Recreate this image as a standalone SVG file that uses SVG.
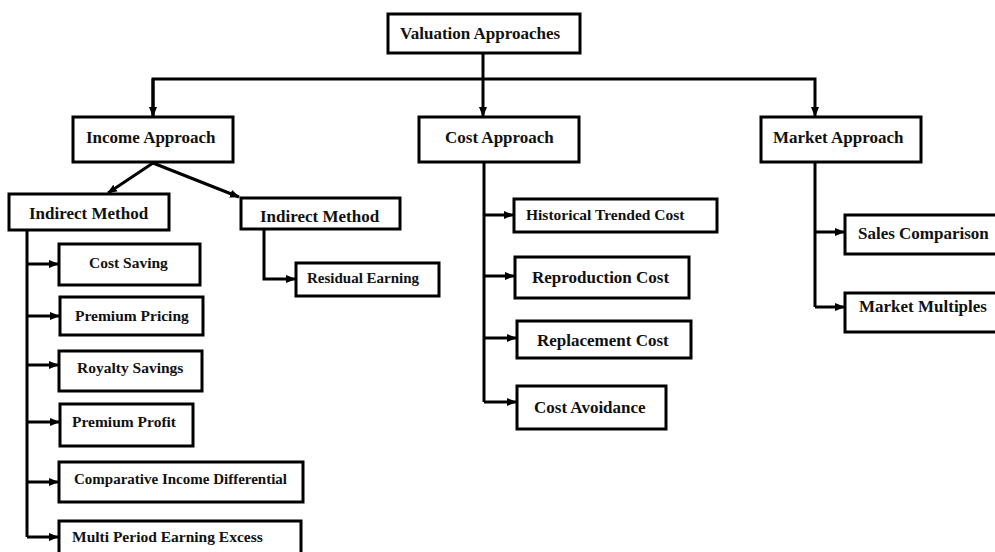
<svg xmlns="http://www.w3.org/2000/svg" width="995" height="552" viewBox="0 0 995 552">
<style>
.box{fill:#fff;stroke:#000;stroke-width:3}
.t{font-family:"Liberation Serif","Times New Roman",serif;font-weight:bold;font-size:15.5px;fill:#111}
.tl{font-size:17px}
.ts{font-size:15px}
.c{fill:none;stroke:#000;stroke-width:3}
</style>
<defs>
<marker id="ah" markerUnits="userSpaceOnUse" markerWidth="10" markerHeight="10" viewBox="0 0 10 10" refX="9" refY="5" orient="auto">
<path d="M0,1 L10,5 L0,9 Z" fill="#000"/>
</marker>
</defs>
<rect width="995" height="552" fill="#fff"/>
<g id="connectors">
<path class="c" d="M483,53 V116" marker-end="url(#ah)"/>
<path class="c" d="M153,116 V79 H815 V116" marker-end="url(#ah)"/>
<path class="c" d="M153,79 V116" marker-end="url(#ah)"/>
<path class="c" d="M153,163 L108,193" marker-end="url(#ah)"/>
<path class="c" d="M153,163 L239,197" marker-end="url(#ah)"/>
<path class="c" d="M27,230 V537"/>
<path class="c" d="M27,264 H58" marker-end="url(#ah)"/>
<path class="c" d="M27,316 H59" marker-end="url(#ah)"/>
<path class="c" d="M27,365 H58" marker-end="url(#ah)"/>
<path class="c" d="M27,422 H59" marker-end="url(#ah)"/>
<path class="c" d="M27,482 H58" marker-end="url(#ah)"/>
<path class="c" d="M27,537 H58" marker-end="url(#ah)"/>
<path class="c" d="M264,229 V279 H295" marker-end="url(#ah)"/>
<path class="c" d="M484,162 V402"/>
<path class="c" d="M484,215 H513" marker-end="url(#ah)"/>
<path class="c" d="M484,276 H514" marker-end="url(#ah)"/>
<path class="c" d="M484,338 H516" marker-end="url(#ah)"/>
<path class="c" d="M484,402 H516" marker-end="url(#ah)"/>
<path class="c" d="M815,162 V307"/>
<path class="c" d="M815,232 H844" marker-end="url(#ah)"/>
<path class="c" d="M815,307 H844" marker-end="url(#ah)"/>
</g>
<g id="valuation"><rect class="box" x="388" y="14" width="192" height="39"/><text class="t tl" x="400" y="39">Valuation Approaches</text></g>
<g id="income"><rect class="box" x="73" y="117" width="160" height="45"/><text class="t tl" x="86" y="143">Income Approach</text></g>
<g id="cost"><rect class="box" x="419" y="117" width="160" height="45"/><text class="t tl" x="445" y="143">Cost Approach</text></g>
<g id="market"><rect class="box" x="761" y="117" width="160" height="45"/><text class="t tl" x="773" y="143">Market Approach</text></g>
<g id="indirect1"><rect class="box" x="9" y="194" width="160" height="36"/><text class="t tl" x="29" y="219">Indirect Method</text></g>
<g id="indirect2"><rect class="box" x="241" y="198" width="159" height="31"/><text class="t tl" x="260" y="222">Indirect Method</text></g>
<g id="residual"><rect class="box" x="296" y="263" width="143" height="33"/><text class="t ts" x="307" y="283">Residual Earning</text></g>
<g id="costsaving"><rect class="box" x="59" y="244" width="141" height="41"/><text class="t" x="89" y="268">Cost Saving</text></g>
<g id="premiumpricing"><rect class="box" x="60" y="297" width="143" height="38"/><text class="t" x="75" y="321">Premium Pricing</text></g>
<g id="royalty"><rect class="box" x="59" y="351" width="143" height="40"/><text class="t" x="77" y="373">Royalty Savings</text></g>
<g id="premiumprofit"><rect class="box" x="60" y="404" width="133" height="42"/><text class="t" x="72" y="427">Premium Profit</text></g>
<g id="comparative"><rect class="box" x="59" y="462" width="244" height="40"/><text class="t ts" x="74" y="484">Comparative Income Differential</text></g>
<g id="multiperiod"><rect class="box" x="59" y="521" width="242" height="40"/><text class="t" x="72" y="542">Multi Period Earning Excess</text></g>
<g id="historical"><rect class="box" x="514" y="199" width="203" height="33"/><text class="t" x="526" y="220">Historical Trended Cost</text></g>
<g id="reproduction"><rect class="box" x="515" y="257" width="174" height="41"/><text class="t tl" x="532" y="283">Reproduction Cost</text></g>
<g id="replacement"><rect class="box" x="517" y="321" width="174" height="37"/><text class="t tl" x="537" y="346">Replacement Cost</text></g>
<g id="avoidance"><rect class="box" x="517" y="386" width="149" height="43"/><text class="t tl" x="534" y="413">Cost Avoidance</text></g>
<g id="sales"><rect class="box" x="845" y="215" width="160" height="39"/><text class="t tl" x="858" y="239">Sales Comparison</text></g>
<g id="multiples"><rect class="box" x="845" y="293" width="160" height="39"/><text class="t tl" x="859" y="312">Market Multiples</text></g>
</svg>
